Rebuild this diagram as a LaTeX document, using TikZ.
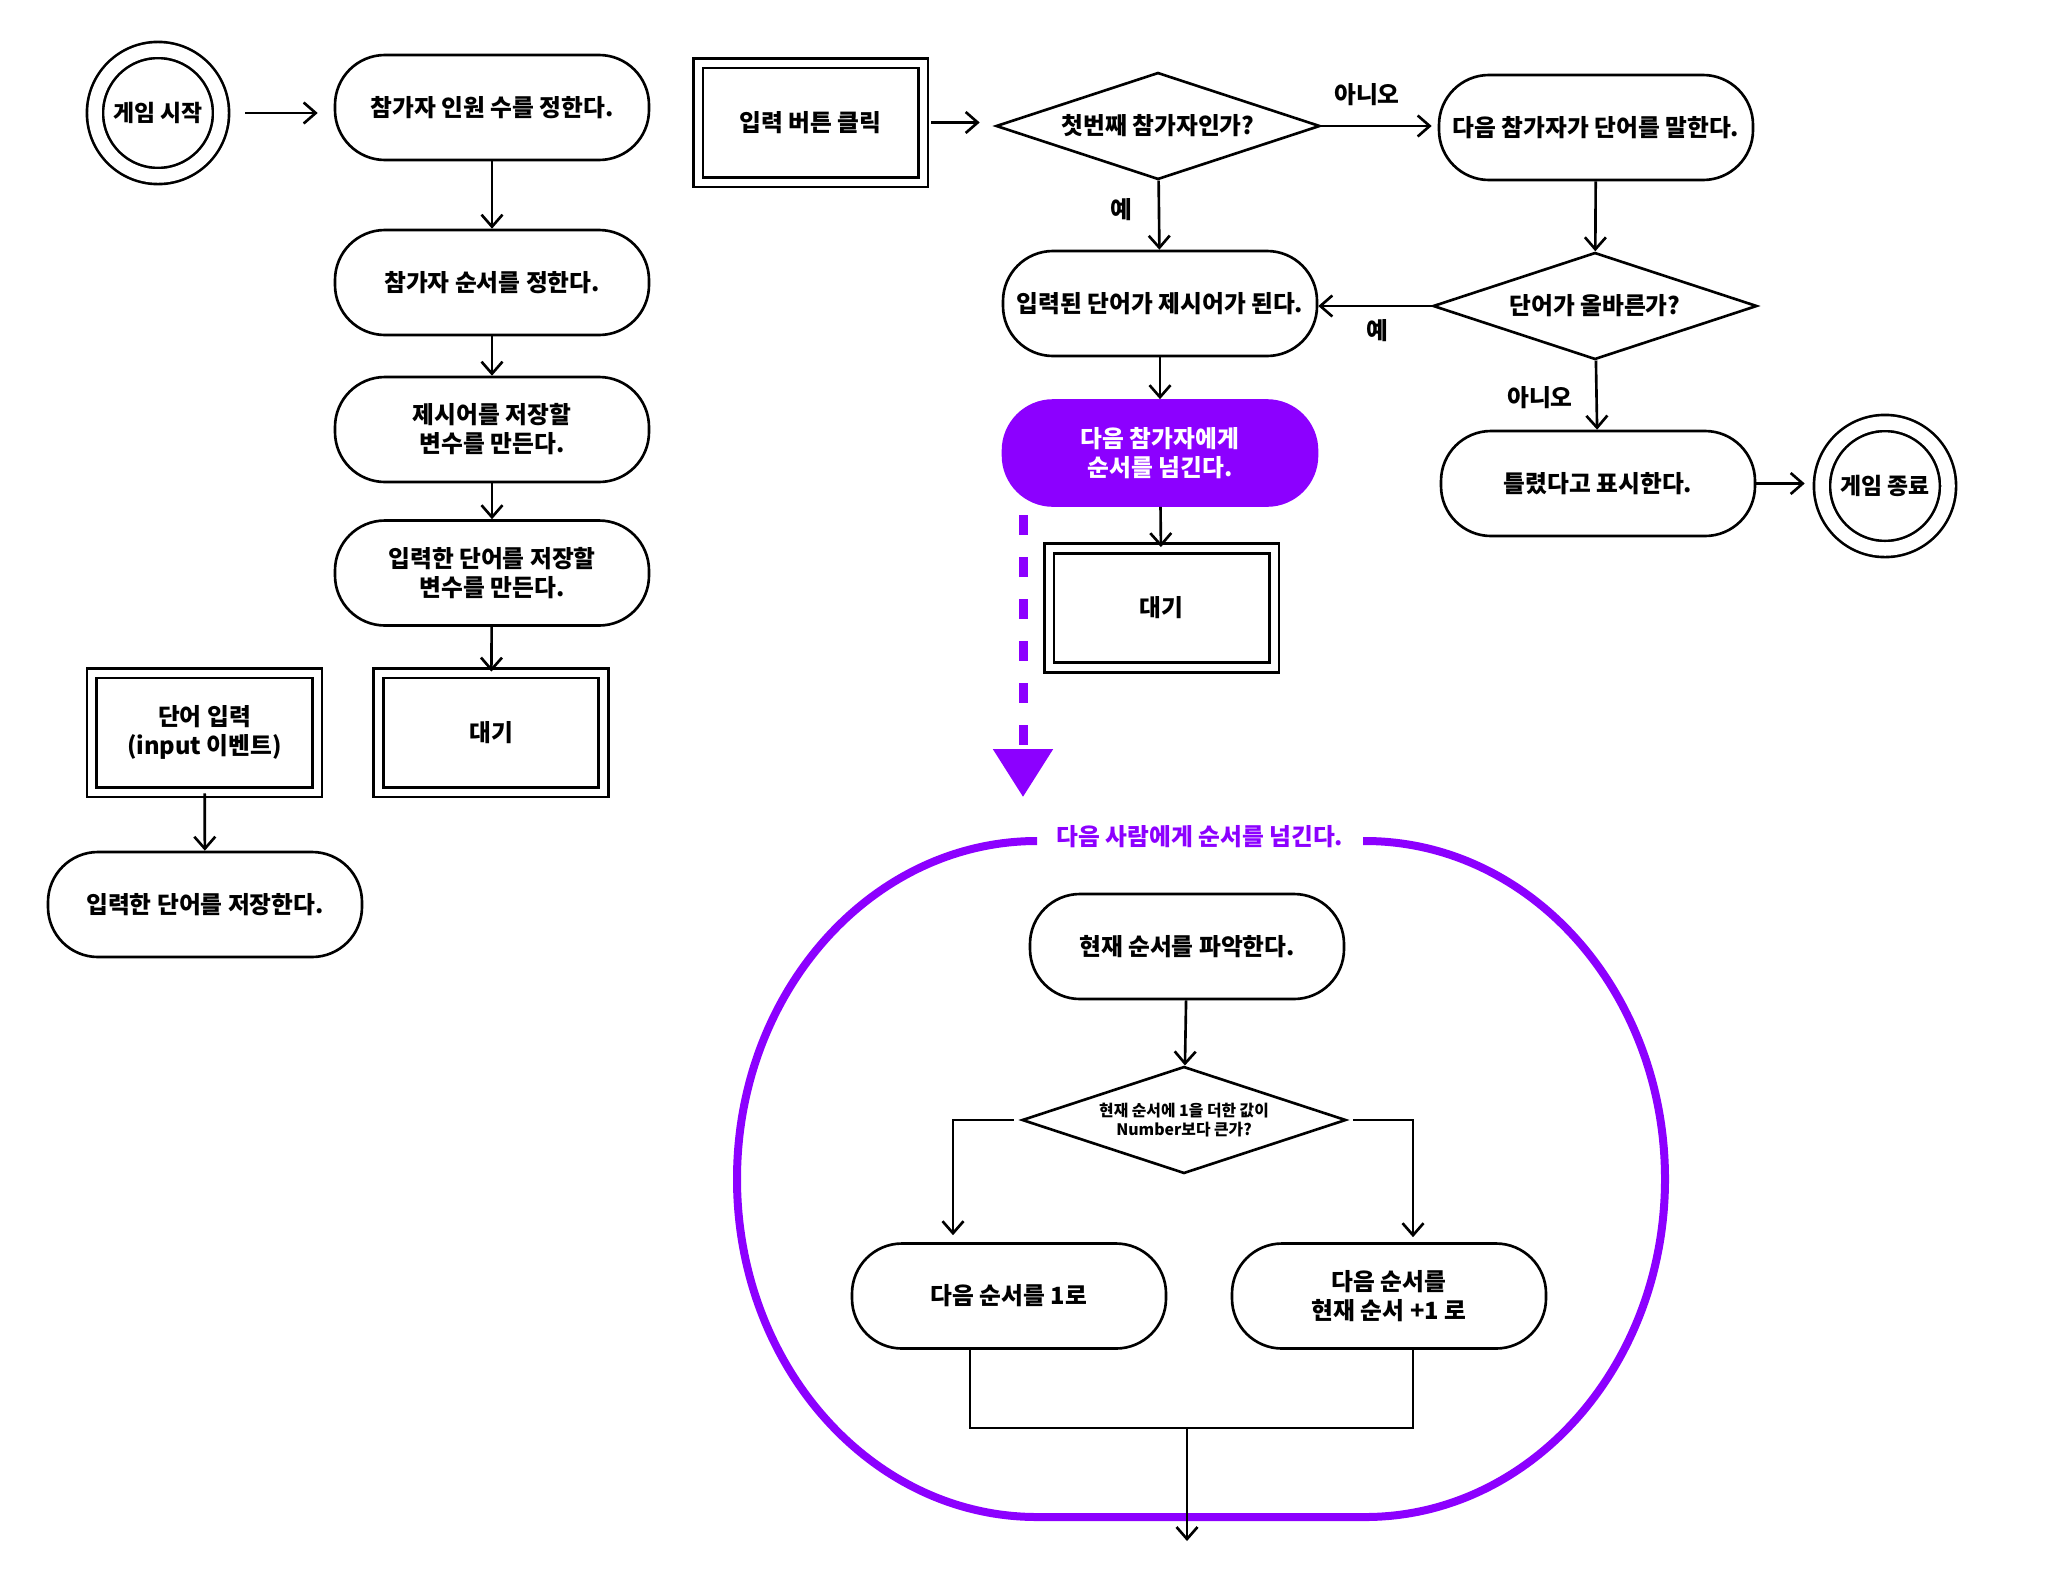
\documentclass[tikz,border=0pt]{standalone}
\usepackage{fontspec}
\setmainfont{Noto Sans CJK KR}
\usetikzlibrary{shapes.geometric,arrows.meta}
\definecolor{passpurple}{RGB}{140,0,255}

\begin{document}
\begin{tikzpicture}[x=0.2mm,y=-0.2mm,
		font=\fontsize{13.5}{16.5}\selectfont\bfseries,
		>={Straight Barb[length=2.4mm,width=4.2mm]},
		proc/.style={draw,line width=1.5pt,rounded corners=10mm,minimum width=62.8mm,minimum height=21mm,inner xsep=0.5mm,align=center},
		event/.style={draw,double,line width=1.6pt,double distance=1.4mm,minimum width=45mm,minimum height=23.8mm,align=center},
		ask/.style={draw,diamond,aspect=3,line width=1.5pt,minimum width=64.8mm,minimum height=21.4mm,inner sep=0pt,align=center},
		term/.style={draw,circle,double,line width=1.5pt,double distance=2.7mm,minimum size=25.2mm,inner sep=0pt,font=\fontsize{13}{16}\selectfont\bfseries},
		flow/.style={->,line width=1.5pt}]
		\useasboundingbox (0,0) rectangle (2061,1588);

		\node[term] (start) at (158,113) {게임 시작};
		\node[proc] (p1) at (492,107.5) {참가자 인원 수를 정한다.};
		\node[proc] (p2) at (492,282.5) {참가자 순서를 정한다.};
		\node[proc] (p3) at (492,429.5) {제시어를 저장할\\변수를 만든다.};
		\node[proc] (p4) at (492,573) {입력한 단어를 저장할\\변수를 만든다.};
		\node[event] (wait1) at (491,732.5) {대기};
		\node[event] (input) at (204.5,732.5) {단어 입력\\(input 이벤트)};
		\node[proc] (store) at (205,904.5) {입력한 단어를 저장한다.};

		\node[event] (click) at (810.5,122.5) {입력 버튼 클릭};
		\node[ask] (first) at (1158,126) {첫번째 참가자인가?};
		\node[proc] (say) at (1596,127.5) {다음 참가자가 단어를 말한다.};
		\node[ask] (valid) at (1595,306) {단어가 올바른가?};
		\node[proc] (word) at (1160,303.5) {입력된 단어가 제시어가 된다.};
		\node[proc,fill=passpurple,draw=passpurple,text=white] (pass) at (1160,453) {다음 참가자에게\\순서를 넘긴다.};
		\node[event] (wait2) at (1161.5,608) {대기};
		\node[proc] (wrong) at (1598,483.5) {틀렸다고 표시한다.};
		\node[term] (finish) at (1885,486) {게임 종료};

		\node (no1) at (1367,95) {아니오};
		\node (yes1) at (1121,210) {예};
		\node (yes2) at (1377,331) {예};
		\node (no2) at (1540,398) {아니오};

		\draw[flow,shorten <=4.6mm,shorten >=3.2mm] (start) -- (start -| p1.west);
		\foreach \a/\b in {p1/p2,p2/p3,p3/p4,p4/wait1}
		{
			\draw[flow] (\a) -- (\b);
		}
		\draw[flow] (input) -- (store);
		\draw[flow,shorten <=1.4mm,shorten >=3mm] (click) -- (click -| first.west);
		\draw[flow,shorten >=1.2mm] (first) -- (first -| say.west);
		\draw[flow] (say) -- (valid);
		\draw[flow] (valid) -- (valid -| word.east);
		\draw[flow] (first) -- (word);
		\draw[flow] (word) -- (pass);
		\draw[flow] (pass) -- (wait2);
		\draw[flow] (valid) -- (wrong);
		\draw[flow,shorten >=3.2mm] (wrong) -- (wrong -| finish.west);

		\coordinate (dtop) at (1023,515);
		\coordinate (dtip) at (1023,797);
		\draw[passpurple,line width=1.8mm,dash pattern=on 4mm off 4.4mm,-{Triangle[length=9.6mm,width=11.6mm]}] (dtop) -- (dtip);

		\draw[passpurple,line width=1.6mm] (1363,841) -- (1365,841)
			arc[start angle=90,end angle=0,x radius=60mm,y radius=67.6mm]
			arc[start angle=0,end angle=-90,x radius=60mm,y radius=67.6mm] -- (1037,1517)
			arc[start angle=-90,end angle=-180,x radius=60mm,y radius=67.6mm]
			arc[start angle=180,end angle=90,x radius=60mm,y radius=67.6mm] -- (1032,841);
		\node[text=passpurple] (loop) at (1200,837) {다음 사람에게 순서를 넘긴다.};
		\node[proc] (now) at (1187,946.5) {현재 순서를 파악한다.};
		\node[ask,font=\fontsize{9}{11}\selectfont\bfseries] (over) at (1184,1120) {현재 순서에 1을 더한 값이\\Number보다 큰가?};
		\node[proc] (one) at (1009,1296) {다음 순서를 1로};
		\node[proc] (inc) at (1389,1296) {다음 순서를\\현재 순서 +1 로};

		\draw[flow] (now) -- (over);
		\draw[flow,shorten >=1.4mm] ([xshift=-1.4mm]over.west) -| ([xshift=-11.2mm]one.north);
		\draw[flow,shorten >=1mm] ([xshift=1.2mm]over.east) -| ([xshift=4.8mm]inc.north);
		\draw[line width=1.5pt] ([xshift=-7.8mm]one.south) -- ++(0,78) -| ([xshift=4.8mm]inc.south);
		\coordinate (merge) at (1187,1427);
		\coordinate (out) at (1187,1541);
		\draw[flow] (merge) -- (out);
\end{tikzpicture}
\end{document}
